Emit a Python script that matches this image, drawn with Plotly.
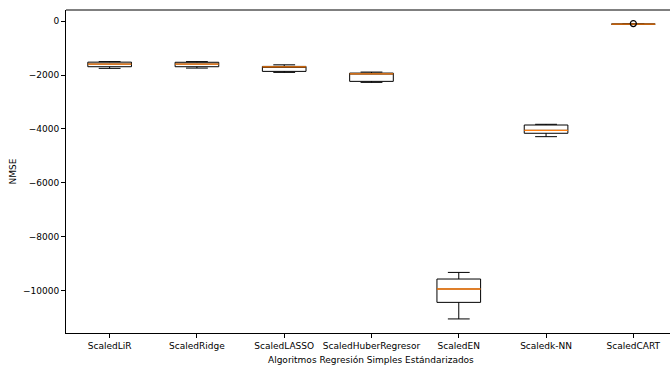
import plotly.graph_objects as go

# Standardized simple regression algorithms, cross-validated NMSE distributions
algorithms = ["ScaledLiR", "ScaledRidge", "ScaledLASSO", "ScaledHuberRegresor",
              "ScaledEN", "Scaledk-NN", "ScaledCART"]
lower_whisker = [-1750, -1740, -1900, -2270, -11048, -4285, -110]
q1_values     = [-1690, -1690, -1863, -2233, -10433, -4159, -110]
median_values = [-1590, -1590, -1693, -1952,  -9937, -4050, -110]
q3_values     = [-1520, -1525, -1678, -1926,  -9567, -3852, -110]
upper_whisker = [-1500, -1500, -1619, -1889,  -9322, -3826, -110]
flier_values  = [[], [], [], [], [], [], [-90]]

ytick_vals = [0, -2000, -4000, -6000, -8000, -10000]
ytick_text = ["0", "\u22122000", "\u22124000", "\u22126000", "\u22128000", "\u221210000"]

BOX_W = 0.5
FONT = "DejaVu Sans"
FS = 9
positions = list(range(1, len(algorithms) + 1))

fig = go.Figure()

for pos, lo, a, m, b, hi in zip(positions, lower_whisker, q1_values, median_values,
                                q3_values, upper_whisker):
    fig.add_trace(go.Box(
        x=[pos], q1=[a], median=[m], q3=[b], lowerfence=[lo], upperfence=[hi],
        width=BOX_W, whiskerwidth=0.5, boxpoints=False,
        line=dict(color="black", width=1), fillcolor="rgba(0,0,0,0)",
        hoverinfo="skip", showlegend=False,
    ))

# orange median lines drawn on top of the boxes
mx, my = [], []
for pos, m in zip(positions, median_values):
    mx += [pos - BOX_W / 2, pos + BOX_W / 2, None]
    my += [m, m, None]
fig.add_trace(go.Scatter(x=mx, y=my, mode="lines",
                         line=dict(color="#ff7f0e", width=1.3),
                         hoverinfo="skip", showlegend=False))

# outliers
fx, fy = [], []
for pos, fl in zip(positions, flier_values):
    for v in fl:
        fx.append(pos)
        fy.append(v)
fig.add_trace(go.Scatter(x=fx, y=fy, mode="markers",
                         marker=dict(symbol="circle-open", size=6,
                                     color="black", line=dict(width=1.2)),
                         hoverinfo="skip", showlegend=False))

fig.add_annotation(text="Algoritmos Regresión Simples Estándarizados",
                   x=4, xref="x", y=-0.083, yref="paper", yanchor="middle",
                   showarrow=False, font=dict(family=FONT, size=FS, color="black"))

fig.add_shape(type="line", xref="paper", yref="paper", x0=0, x1=1, y0=1, y1=1,
              line=dict(color="black", width=1))

fig.update_layout(
    width=670, height=366,
    margin=dict(l=66, r=0, t=10, b=33),
    paper_bgcolor="white", plot_bgcolor="white",
    font=dict(family=FONT, size=FS, color="black"),
    xaxis=dict(range=[0.5, 7.42], tickvals=positions, ticktext=algorithms,
               ticks="outside", ticklen=4, tickcolor="black", tickwidth=1,
               showline=True, linecolor="black", linewidth=1,
               showgrid=False, zeroline=False, tickfont=dict(size=FS)),
    yaxis=dict(range=[-11570, 415], tickvals=ytick_vals, ticktext=ytick_text,
               ticks="outside", ticklen=4, tickcolor="black", tickwidth=1,
               showline=True, linecolor="black", linewidth=1,
               showgrid=False, zeroline=False, tickfont=dict(size=FS),
               title=dict(text="NMSE", font=dict(size=FS), standoff=4)),
)

fig.write_html("out.html")
